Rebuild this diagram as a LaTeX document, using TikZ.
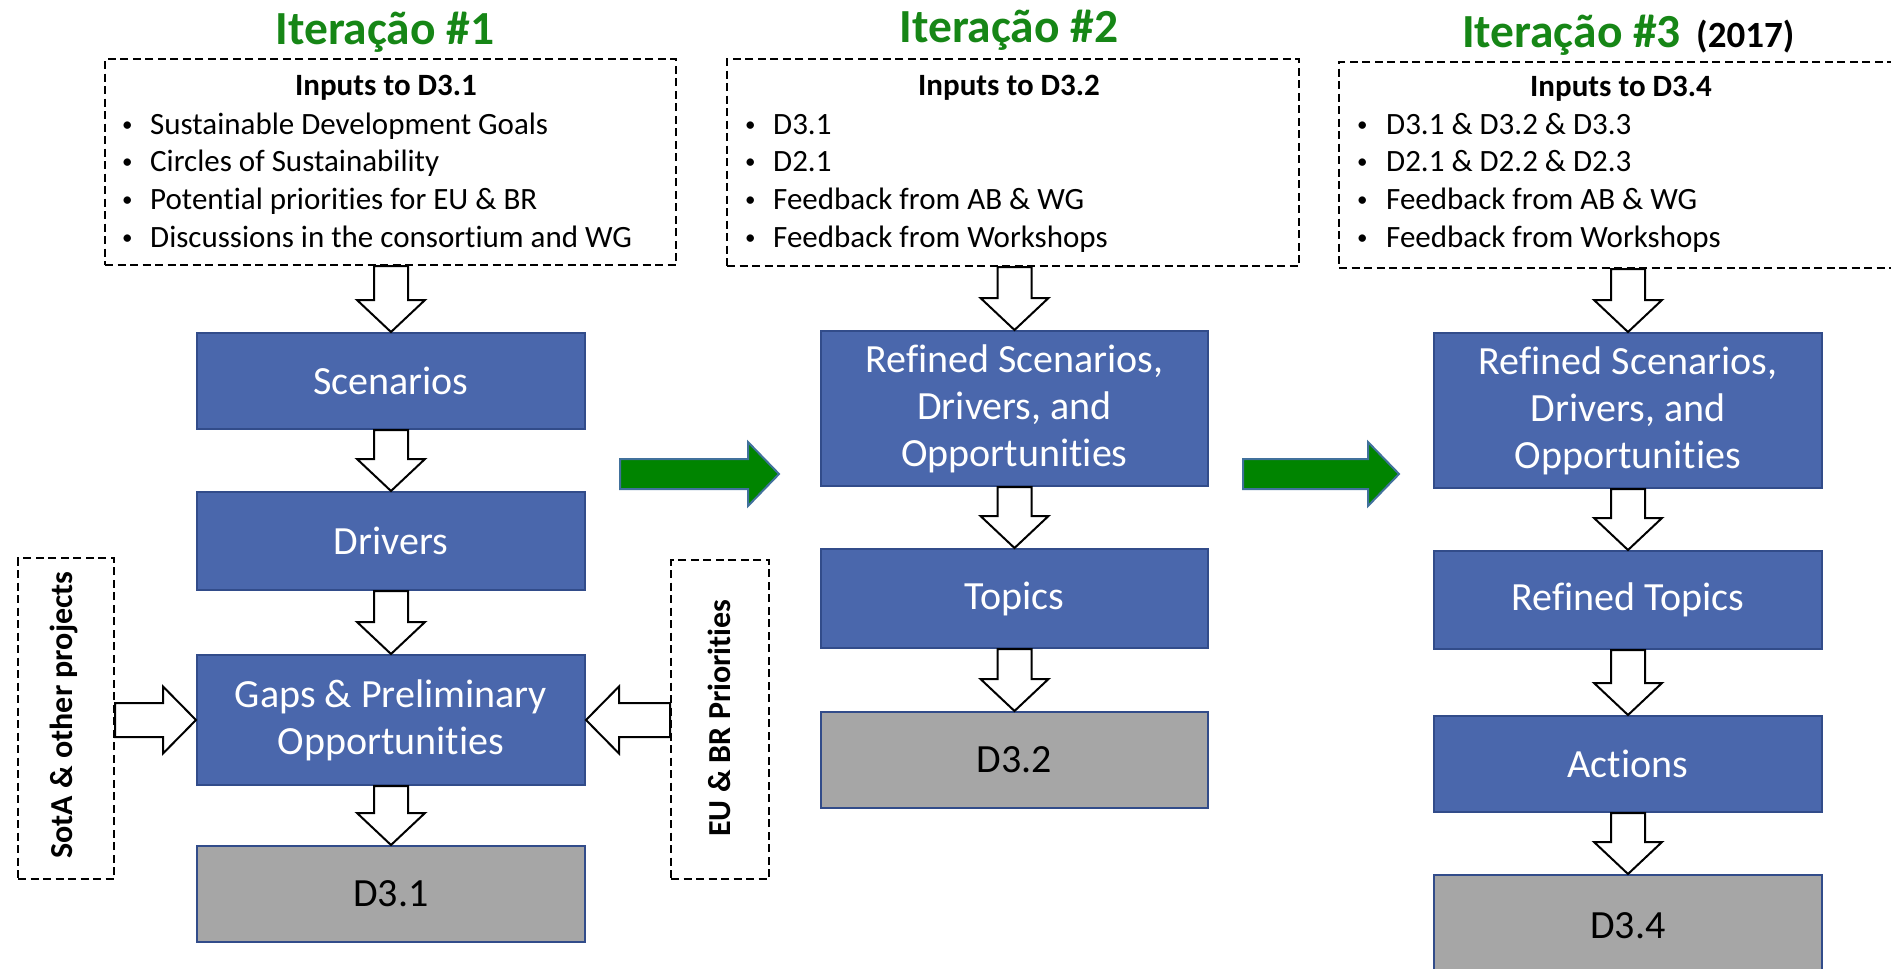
\documentclass[tikz,border=0pt]{standalone}
\usepackage{fontspec}
\setmainfont{Carlito}[Ligatures=NoCommon]
\usetikzlibrary{calc}
\definecolor{boxblue}{RGB}{74,103,172}
\definecolor{boxedge}{RGB}{50,76,138}
\definecolor{grayfill}{RGB}{166,166,166}
\definecolor{titlegreen}{RGB}{22,134,22}
\definecolor{arrowgreen}{RGB}{0,132,0}
\definecolor{greenedge}{RGB}{65,113,156}
\newcommand\fs[2]{\fontsize{#1}{#2}\selectfont}
\newcommand\blt[1]{\makebox[#1][l]{\hspace{1pt}\raisebox{3pt}{\fs{21}{21}\textbullet}}}
% vertical block arrow: #1 start (top), #2 tip
\newcommand\vblk[2]{\draw[barrow] let \p1=(#1), \p2=(#2) in
  ({\x2-17pt},{\y1}) -- ({\x2-17pt},{\y2+32pt}) -- ({\x2-34pt},{\y2+32pt}) -- ({\x2},{\y2})
  -- ({\x2+34pt},{\y2+32pt}) -- ({\x2+17pt},{\y2+32pt}) -- ({\x2+17pt},{\y1}) -- cycle;}
% horizontal block arrow: #1 style, #2 start, #3 tip, #4 half shaft, #5 half head, #6 signed head length
\newcommand\hblk[6]{\draw[#1] let \p1=(#2), \p2=(#3), \n1={#6*1pt} in
  ({\x1},{\y2+#4pt}) -- ({\x2-\n1},{\y2+#4pt}) -- ({\x2-\n1},{\y2+#5pt}) -- ({\x2},{\y2})
  -- ({\x2-\n1},{\y2-#5pt}) -- ({\x2-\n1},{\y2-#4pt}) -- ({\x1},{\y2-#4pt}) -- cycle;}
\begin{document}
\begin{tikzpicture}[x=1pt,y=-1pt,
  title/.style={inner sep=0pt,text=titlegreen,font=\bfseries\fs{47.5}{55}},
  dbox/.style={draw=black,dash pattern=on 8pt off 4.5pt,line width=2pt,anchor=north west,inner sep=0pt},
  hdr/.style={inner sep=0pt,anchor=base,font=\bfseries\fs{31}{37}},
  item/.style={inner sep=0pt,anchor=base west,font=\fs{31}{37}},
  box/.style={draw=boxedge,fill=boxblue,line width=2pt,text=white,align=center,
     inner sep=0pt,anchor=north west,font=\fs{40}{47}},
  gbox/.style={box,fill=grayfill,text=black},
  side/.style={inner sep=0pt,font=\bfseries\fs{32}{38},rotate=90},
  barrow/.style={draw=black,fill=white,line width=2pt,line join=miter},
  garrow/.style={draw=greenedge,fill=arrowgreen,line width=2pt,line join=miter}]
\useasboundingbox (0,0) rectangle (1891,969);
\clip (0,0) rectangle (1891,969);

% titles
\node[title,anchor=base] (t1) at (385,44) {Iteração \#1};
\node[title,anchor=base] (t2) at (1009,42) {Iteração \#2};
\node[title,anchor=base west] (t3) at (1462,47) {Iteração \#3};
\node[inner sep=0pt,anchor=base west,font=\bfseries\fs{37}{42}] (t3y) at (1696,47) {(2017)};

% input boxes
\node[dbox,minimum width=571pt,minimum height=206pt] (in1) at (104,58) {};
\node[dbox,minimum width=572pt,minimum height=207pt] (in2) at (726,58) {};
\node[dbox,minimum width=600pt,minimum height=206pt] (in3) at (1338,61) {};

\node[hdr] (h1) at (386,95) {Inputs to D3.1};
\node[hdr] (h2) at (1009,95) {Inputs to D3.2};
\node[hdr] (h3) at (1621,96) {Inputs to D3.4};

\foreach \txt [count=\k] in {Sustainable Development Goals, Circles of Sustainability,
   Potential priorities for EU \& BR, Discussions in the consortium and WG}
  \node[item] (ia\k) at (121,{134+37.7*(\k-1)}) {\blt{29pt}\txt};
\foreach \txt [count=\k] in {D3.1, D2.1, Feedback from AB \& WG, Feedback from Workshops}
  \node[item] (ib\k) at (744,{134+37.7*(\k-1)}) {\blt{29pt}\txt};
\foreach \txt [count=\k] in {D3.1 \& D3.2 \& D3.3, D2.1 \& D2.2 \& D2.3, Feedback from AB \& WG, Feedback from Workshops}
  \node[item] (ic\k) at (1356,{134+37.7*(\k-1)}) {\blt{30pt}\txt};

% column 1
\node[box,minimum width=388pt,minimum height=96pt] (scen) at (196,332) {Scenarios};
\node[box,minimum width=388pt,minimum height=98pt] (drv) at (196,491) {Drivers};
\node[box,minimum width=388pt,minimum height=130pt] (gaps) at (196,654) {Gaps \& Preliminary\\Opportunities};
\node[gbox,minimum width=388pt,minimum height=96pt] (d31) at (196,845) {D3.1};

% side boxes
\node[dbox,minimum width=96pt,minimum height=321pt] (sota) at (17,557) {};
\node[side] (sotat) at (64,715) {SotA \& other projects};
\node[dbox,minimum width=98pt,minimum height=319pt] (eu) at (670,559) {};
\node[side] (eut) at (719,718) {EU \& BR Priorities};

% column 2
\node[box,minimum width=387pt,minimum height=155pt] (ref2) at (820,330) {Refined Scenarios,\\Drivers, and\\Opportunities};
\node[box,minimum width=387pt,minimum height=99pt] (top2) at (820,548) {Topics};
\node[gbox,minimum width=387pt,minimum height=96pt] (d32) at (820,711) {D3.2};

% column 3
\node[box,minimum width=388pt,minimum height=155pt] (ref3) at (1433,332) {Refined Scenarios,\\Drivers, and\\Opportunities};
\node[box,minimum width=388pt,minimum height=98pt] (top3) at (1433,550) {Refined Topics};
\node[box,minimum width=388pt,minimum height=96pt] (act3) at (1433,715) {Actions};
\node[gbox,minimum width=388pt,minimum height=104pt] (d34) at (1433,874) {\raisebox{2pt}{D3.4}};

% block arrows
\vblk{in1.south}{scen.north}
\vblk{scen.south}{drv.north}
\vblk{drv.south}{gaps.north}
\vblk{gaps.south}{d31.north}
\vblk{in2.south}{ref2.north}
\vblk{ref2.south}{top2.north}
\vblk{top2.south}{d32.north}
\vblk{in3.south}{ref3.north}
\vblk{ref3.south}{top3.north}
\vblk{top3.south}{act3.north}
\vblk{act3.south}{d34.north}

\hblk{barrow}{sota.east}{gaps.west}{17}{33.5}{33}
\hblk{barrow}{eu.west}{gaps.east}{17}{33.5}{-33}

% green iteration arrows
\coordinate (g1s) at (620,474);
\coordinate (g1e) at (779,474);
\coordinate (g2s) at (1243,474);
\coordinate (g2e) at (1399,474);
\hblk{garrow}{g1s}{g1e}{15}{32}{31}
\hblk{garrow}{g2s}{g2e}{15}{32}{31}
\end{tikzpicture}
\end{document}
